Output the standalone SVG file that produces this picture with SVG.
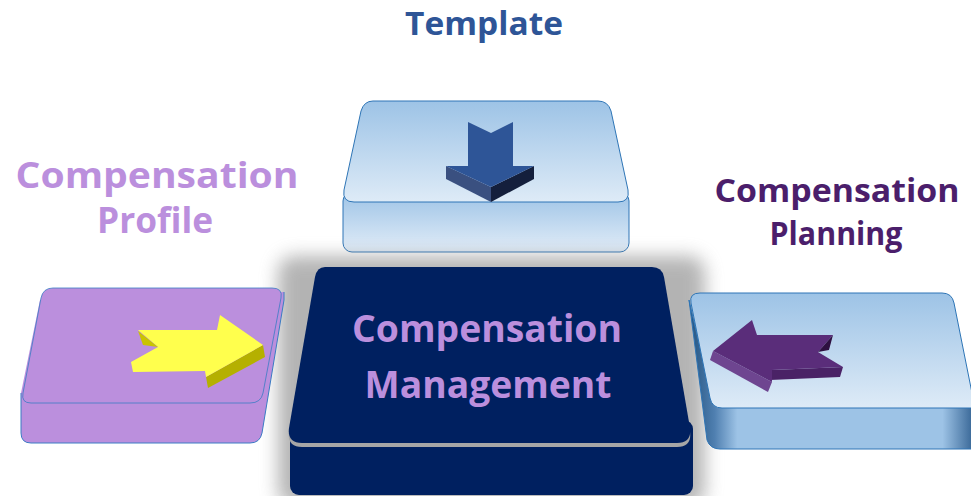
<svg xmlns="http://www.w3.org/2000/svg" width="971" height="496" viewBox="0 0 971 496">
<defs>
<style>
.lbl{font-family:"Open Sans","Liberation Sans",sans-serif;font-weight:700;text-anchor:middle}
.blueEdge{stroke:#2e75b6;stroke-width:1}
</style>
<linearGradient id="gFace" x1="0" y1="0" x2="0" y2="1">
<stop offset="0" stop-color="#9dc3e6"/><stop offset="1" stop-color="#deebf7"/>
</linearGradient>
<linearGradient id="gSide" x1="0" y1="0" x2="0" y2="1">
<stop offset="0" stop-color="#9dc3e6"/><stop offset="1" stop-color="#e2edf8"/>
</linearGradient>
<linearGradient id="gRightBody" gradientUnits="userSpaceOnUse" x1="686" y1="0" x2="971" y2="0">
<stop offset="0" stop-color="#1f4e79"/><stop offset="0.1" stop-color="#4f7fb0"/><stop offset="0.18" stop-color="#9dc3e6"/><stop offset="0.9" stop-color="#9dc3e6"/><stop offset="1" stop-color="#3f6d9c"/>
</linearGradient>
<filter id="glow" x="-20%" y="-20%" width="140%" height="140%">
<feGaussianBlur stdDeviation="9"/>
</filter>
</defs>

<g id="labels">
<text class="lbl" x="484" y="35" font-size="32" fill="#2e5597" textLength="158" lengthAdjust="spacingAndGlyphs">Template</text>
<text class="lbl" x="157" y="188" font-size="35" fill="#bb8fdd" textLength="283" lengthAdjust="spacingAndGlyphs">Compensation</text>
<text class="lbl" x="155" y="233" font-size="35" fill="#bb8fdd" textLength="116" lengthAdjust="spacingAndGlyphs">Profile</text>
<text class="lbl" x="837" y="202" font-size="33" fill="#4b1e6b" textLength="245" lengthAdjust="spacingAndGlyphs">Compensation</text>
<text class="lbl" x="836" y="245" font-size="33" fill="#4b1e6b" textLength="133" lengthAdjust="spacingAndGlyphs">Planning</text>
</g>

<g id="template">
<rect x="343" y="192" width="286" height="60" rx="9" fill="url(#gSide)" class="blueEdge"/>
<path d="M373,101 L598,101 Q608,101 611,111 L628,190 Q630,202 618,202 L354,202 Q342,202 344,190 L361,111 Q364,101 373,101 Z" fill="url(#gFace)" class="blueEdge"/>
<polygon points="446,166 491,187 491,202 446,179" fill="#3a5080"/>
<polygon points="534,166 534,179 491,202 491,187" fill="#141f3c"/>
<polygon points="468,122 491,133 513,122 513,166 534,166 491,187 446,166 468,166" fill="#2e5597"/>
</g>

<g id="management">
<rect x="278" y="256" width="427" height="250" rx="16" fill="#8c8c8c" opacity="0.65" filter="url(#glow)"/>
<rect x="290" y="420" width="403" height="75" rx="9" fill="#002060"/>
<path d="M325,271 L652,271 Q662,271 664,281 L690,432 Q692,447 677,447 L302,447 Q287,447 289,432 L315,281 Q317,271 325,271 Z" fill="#a6a6a6"/>
<path d="M325,267 L652,267 Q662,267 664,277 L690,428 Q692,443 677,443 L302,443 Q287,443 289,428 L315,277 Q317,267 325,267 Z" fill="#002060"/>
<text class="lbl" x="487" y="342" font-size="37" fill="#bb8fdd" textLength="270" lengthAdjust="spacingAndGlyphs">Compensation</text>
<text class="lbl" x="488" y="398" font-size="37" fill="#bb8fdd" textLength="247" lengthAdjust="spacingAndGlyphs">Management</text>
</g>

<g id="profile">
<path d="M21,393 L21,433 Q21,443 31,443 L250,443 Q260,443 262,433 L284,300 L284,292 L40,300 Z" fill="#bb8fdd"/>
<path d="M21,393 L21,433 Q21,443 31,443 L250,443 Q260,443 262,433 L284,300 L284,292" fill="none" stroke="#3a7cc4" stroke-width="1"/>
<path d="M53,288 L272,288 Q283,288 281,298 L263,393 Q261,403 250,403 L31,403 Q21,403 23,393 L41,298 Q43,288 53,288 Z" fill="#bb8fdd" stroke="#3a7cc4" stroke-width="0.8"/>
<polygon points="263,345 265,357 208,388 206,377" fill="#b5b000"/>
<polygon points="138,330 217,330 220,315 263,345 206,377 205,371 133,372 131,362 158,347" fill="#ffff4d"/>
<polygon points="138,331 158,347 143,345" fill="#c9c400"/>
</g>

<g id="planning">
<path d="M689,300 L707,440 Q710,449 720,449 L975,449 L975,400 L712,400 Z" fill="url(#gRightBody)" stroke="#2e75b6" stroke-width="1"/>
<path d="M700,293 L942,293 Q952,293 954,303 L975,408 L722,408 Q712,408 710,398 L691,303 Q689,293 700,293 Z" fill="url(#gFace)" stroke="#2e75b6" stroke-width="1"/>
<polygon points="713,351 772,382 768,392 710,360" fill="#6e4590"/>
<polygon points="843,367 840,377 770,380 772,370" fill="#4a2266"/>
<polygon points="713,351 752,320 757,335 833,335 818,352 843,367 772,370 772,382" fill="#5a2d7a"/>
<polygon points="833,335 818,352 829,350" fill="#2e1040"/>
</g>
</svg>
